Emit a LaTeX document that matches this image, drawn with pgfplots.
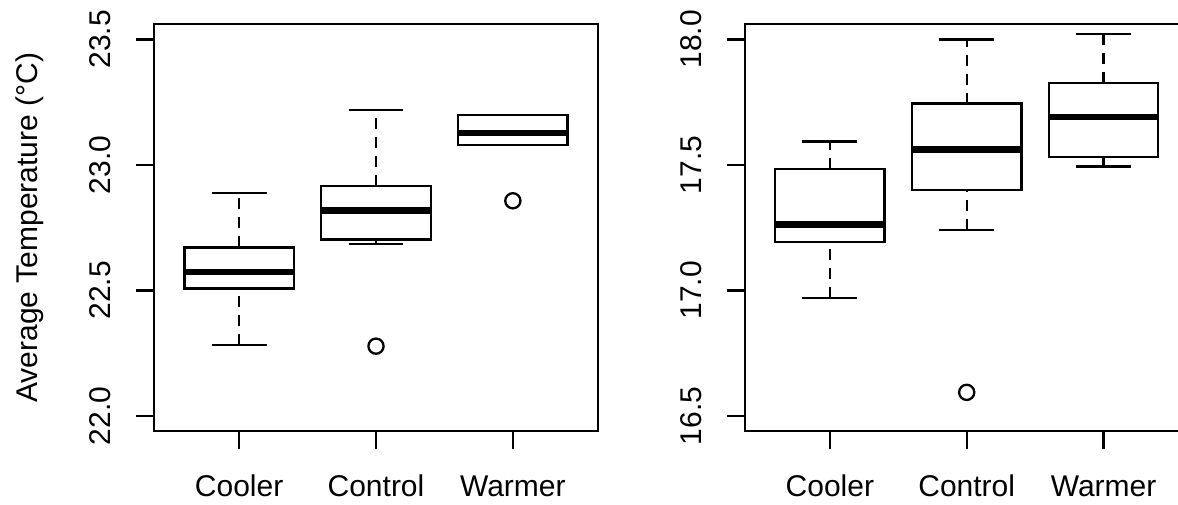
\documentclass[border=0pt]{standalone}
\usepackage{fontspec}
\setmainfont{Liberation Sans}
\usepackage{pgfplots}
\pgfplotsset{compat=1.18}

\pgfplotsset{
  rbox/.style={
    scale only axis, width=443.4pt, height=406.7pt,
    anchor=south west,
    xmin=0.38, xmax=3.62,
    xtick={1,2,3}, xticklabels={Cooler,Control,Warmer},
    axis line style={line width=2.3pt},
    tick style={line width=2.3pt, black},
    tick align=outside, major tick length=18pt,
    xtick pos=bottom, ytick pos=left,
    unbounded coords=jump,
    tick label style={font=\fontsize{30}{36}\selectfont},
    yticklabel style={xshift=-26pt, rotate=90, anchor=base, inner sep=0pt},
    xticklabel style={yshift=-47pt, anchor=base, inner sep=0pt},
    yticklabel style={/pgf/number format/.cd, fixed, fixed zerofill, precision=1},
    /pgf/number format/assume math mode=true,
  },
  whisk/.style={black, line width=2.3pt, dash pattern=on 11pt off 8pt, forget plot},
  edge/.style={black, line width=2.3pt, line join=miter, forget plot},
  med/.style={black, line width=6.5pt, line cap=butt, forget plot},
  outl/.style={black, only marks, mark=o, mark size=7.6pt, mark options={solid, line width=2.3pt}},
}

\begin{document}
\begin{tikzpicture}
\useasboundingbox (0,0) rectangle (1178pt,504pt);
\begin{scope}
\clip (0,0) rectangle (1178pt,504pt);

\begin{axis}[
    rbox,
    at={(154.3pt,73pt)},
    ymin=21.94, ymax=23.56,
    ytick={22,22.5,23,23.5},
    ylabel={Average Temperature (°C)},
    every axis y label/.style={at={(axis description cs:-0.2645,0.5)}, rotate=90,
        anchor=base, inner sep=0pt, font=\fontsize{30}{36}\selectfont},
]
% Cooler
\addplot[whisk] coordinates {(1,22.282) (1,22.508) (1,nan) (1,22.671) (1,22.889)};
\addplot[edge] coordinates {(0.8,22.282) (1.2,22.282) (1,nan) (0.8,22.889) (1.2,22.889)};
\addplot[edge] coordinates {(0.6,22.508) (1.4,22.508) (1.4,22.671) (0.6,22.671)} -- cycle;
\addplot[med] coordinates {(0.6,22.573) (1.4,22.573)};
% Control
\addplot[whisk] coordinates {(2,22.686) (2,22.703) (2,nan) (2,22.917) (2,23.219)};
\addplot[edge] coordinates {(1.8,22.686) (2.2,22.686) (2,nan) (1.8,23.219) (2.2,23.219)};
\addplot[edge] coordinates {(1.6,22.703) (2.4,22.703) (2.4,22.917) (1.6,22.917)} -- cycle;
\addplot[med] coordinates {(1.6,22.819) (2.4,22.819)};
% Warmer (whiskers end at the box)
\addplot[edge] coordinates {(2.6,23.078) (3.4,23.078) (3.4,23.199) (2.6,23.199)} -- cycle;
\addplot[med] coordinates {(2.6,23.128) (3.4,23.128)};
% outliers
\addplot[outl] coordinates {(2,22.278) (3,22.857)};
\end{axis}

\begin{axis}[
    rbox,
    at={(745pt,73pt)},
    ymin=16.44, ymax=18.06,
    ytick={16.5,17,17.5,18},
]
% Cooler
\addplot[whisk] coordinates {(1,16.970) (1,17.192) (1,nan) (1,17.483) (1,17.593)};
\addplot[edge] coordinates {(0.8,16.970) (1.2,16.970) (1,nan) (0.8,17.593) (1.2,17.593)};
\addplot[edge] coordinates {(0.6,17.192) (1.4,17.192) (1.4,17.483) (0.6,17.483)} -- cycle;
\addplot[med] coordinates {(0.6,17.262) (1.4,17.262)};
% Control
\addplot[whisk] coordinates {(2,17.242) (2,17.401) (2,nan) (2,17.744) (2,17.999)};
\addplot[edge] coordinates {(1.8,17.242) (2.2,17.242) (2,nan) (1.8,17.999) (2.2,17.999)};
\addplot[edge] coordinates {(1.6,17.401) (2.4,17.401) (2.4,17.744) (1.6,17.744)} -- cycle;
\addplot[med] coordinates {(1.6,17.562) (2.4,17.562)};
% Warmer
\addplot[whisk] coordinates {(3,17.494) (3,17.531) (3,nan) (3,17.826) (3,18.022)};
\addplot[edge] coordinates {(2.8,17.494) (3.2,17.494) (3,nan) (2.8,18.022) (3.2,18.022)};
\addplot[edge] coordinates {(2.6,17.531) (3.4,17.531) (3.4,17.826) (2.6,17.826)} -- cycle;
\addplot[med] coordinates {(2.6,17.691) (3.4,17.691)};
% outlier
\addplot[outl] coordinates {(2,16.594)};
\end{axis}

\end{scope}
\end{tikzpicture}
\end{document}
